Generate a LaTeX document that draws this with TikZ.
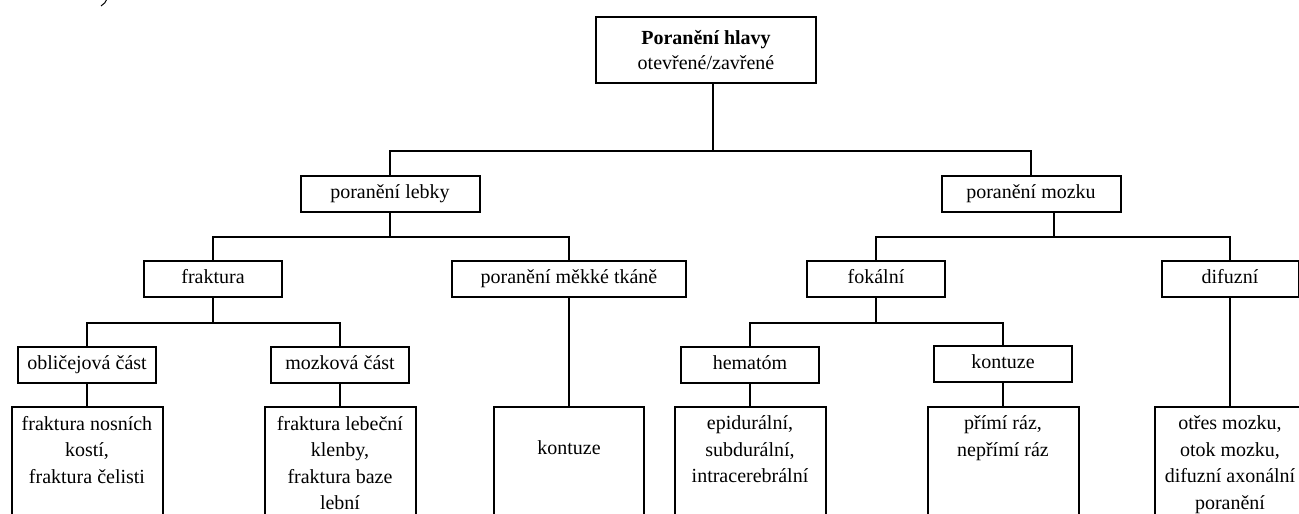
\documentclass[tikz,border=0pt]{standalone}
\usepackage{fontspec}
\setmainfont{Liberation Serif}
\newcommand{\leaftext}[1]{\parbox[t][120pt][t]{144pt}{\centering #1}}
\begin{document}
\begin{tikzpicture}[x=1pt, y=-1pt, line width=2pt,
    every node/.style={font=\fontsize{20}{26.5}\selectfont},
    box/.style={draw, minimum height=36pt, minimum width=138pt, inner sep=2pt,
        text height=13.5pt, text depth=4.5pt},
    leaf/.style={draw, anchor=north, minimum width=151pt, inner xsep=2pt, inner ysep=9pt},
    link/.style={line width=2pt}]
    \useasboundingbox (0,0) rectangle (1299,514);
    \clip (0,0) rectangle (1299,514);

    % Cut off mark in the corner
    \draw[line width=1pt] (101,6) .. controls (104,4) and (106,2) .. (107,-1);

    % Root
    \node[draw, minimum width=220pt, minimum height=66pt, align=center,
        font=\fontsize{20}{25}\selectfont] (hlava) at (706, 50)
        {\textbf{Poranění hlavy}\\otevřené/zavřené};

    % Main branches
    \node[box, minimum width=179pt] (lebka) at (390, 194) {poranění lebky};
    \node[box, minimum width=179pt] (mozek) at (1031, 194) {poranění mozku};

    % Second level
    \node[box] (fraktura) at (213, 279) {fraktura};
    \node[box, minimum width=234pt] (mekke) at (569, 279) {poranění měkké tkáně};
    \node[box] (fokal) at (876, 279) {fokální};
    \node[box, minimum width=137pt] (difuz) at (1230, 279) {difuzní};

    % Third level
    \node[box] (oblicej) at (87, 365) {obličejová část};
    \node[box] (mozkova) at (340, 365) {mozková část};
    \node[box] (hematom) at (750, 365) {hematóm};
    \node[box] (kontuze) at (1003, 364) {kontuze};

    % Leaves (cut by the bottom edge)
    \node[leaf] (oblicej-l) at (87, 406) {\leaftext{fraktura nosních\\kostí,\\fraktura čelisti}};
    \node[leaf] (mozkova-l) at (340, 406) {\leaftext{fraktura lebeční\\klenby,\\fraktura baze\\lební}};
    \node[leaf, minimum width=150pt] (mekke-l) at (569, 406) {\leaftext{\vspace*{25pt}kontuze}};
    \node[leaf] (hematom-l) at (750, 406) {\leaftext{epidurální,\\subdurální,\\intracerebrální}};
    \node[leaf] (kontuze-l) at (1003, 406) {\leaftext{přímí ráz,\\nepřímí ráz}};
    \node[leaf] (difuz-l) at (1230, 406) {\leaftext{otřes mozku,\\otok mozku,\\difuzní axonální\\poranění}};

    % Branching lines
    \draw[link] ([xshift=7pt]hlava.south) -- ++(0,67) coordinate (j0);
    \draw[link] (j0) -| (lebka.north);
    \draw[link] (j0) -| (mozek.north);

    \draw[link] (lebka.south) -- ++(0,24) coordinate (j1);
    \draw[link] (j1) -| (fraktura.north);
    \draw[link] (j1) -| (mekke.north);

    \draw[link] ([xshift=23pt]mozek.south) -- ++(0,24) coordinate (j2);
    \draw[link] (j2) -| (fokal.north);
    \draw[link] (j2) -| (difuz.north);

    \draw[link] (fraktura.south) -- ++(0,25) coordinate (j3);
    \draw[link] (j3) -| (oblicej.north);
    \draw[link] (j3) -| (mozkova.north);

    \draw[link] (fokal.south) -- ++(0,25) coordinate (j4);
    \draw[link] (j4) -| (hematom.north);
    \draw[link] (j4) -| (kontuze.north);

    \foreach \a in {oblicej, mozkova, mekke, hematom, kontuze, difuz} {
        \draw[link] (\a.south) -- (\a-l.north);
    }
\end{tikzpicture}
\end{document}
